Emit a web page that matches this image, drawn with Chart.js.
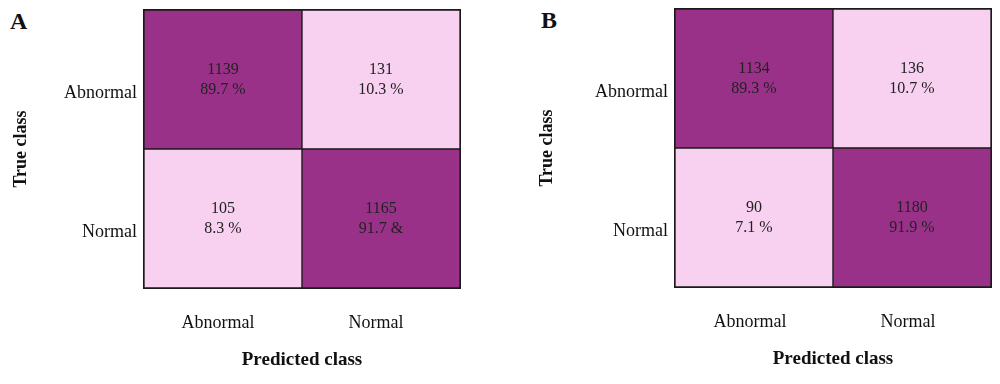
<!DOCTYPE html>
<html>
<head>
<meta charset="utf-8">
<script src="https://cdn.jsdelivr.net/npm/chart.js@4"></script>
<style>
  body { margin: 0; background: #fff; width: 1000px; height: 384px; position: relative; overflow: hidden; }
  .panel { position: absolute; top: 0; width: 470px; height: 384px; }
  .letter { position: absolute; font: bold 24px "Liberation Serif", serif; line-height: 1; color: #111; }
</style>
</head>
<body>
<div class="letter" style="left:10px; top:9px;">A</div>
<div class="letter" style="left:541px; top:8px;">B</div>
<div class="panel" style="left:0px;"><canvas id="matA"></canvas></div>
<div class="panel" style="left:530px;"><canvas id="matB"></canvas></div>

<script>
// class names
const predictedClass = ['Abnormal', 'Normal'];
const trueClass = ['Abnormal', 'Normal'];

// rows = true class, columns = predicted class
const countsA = [[1139, 131], [105, 1165]];
const percentA = [['89.7 %', '10.3 %'], ['8.3 %', '91.7 &']];

const countsB = [[1134, 136], [90, 1180]];
const percentB = [['89.3 %', '10.7 %'], ['7.1 %', '91.9 %']];

const darkColor = '#9a3188';
const lightColor = '#f8d0f0';
const serif = '"Liberation Serif", serif';

// writes the count and percentage in the middle of every cell
const cellText = {
  id: 'cellText',
  afterDatasetsDraw(chart, args, opts) {
    const ctx = chart.ctx;
    ctx.save();
    ctx.font = '16px ' + serif;
    ctx.fillStyle = '#222';
    ctx.textAlign = 'center';
    ctx.textBaseline = 'middle';
    chart.data.datasets.forEach((ds, d) => {
      const meta = chart.getDatasetMeta(d);
      meta.data.forEach((bar, j) => {
        const cy = (bar.y + bar.base) / 2;
        ctx.fillText(String(opts.counts[ds.row][j]), bar.x, cy - 10);
        ctx.fillText(opts.percents[ds.row][j], bar.x, cy + 10);
      });
    });
    ctx.restore();
  }
};

// thickens the outside frame so it matches the inner lines
const frame = {
  id: 'frame',
  afterDatasetsDraw(chart) {
    const a = chart.chartArea;
    const ctx = chart.ctx;
    ctx.save();
    ctx.strokeStyle = '#1a1a1a';
    ctx.lineWidth = 1;
    ctx.strokeRect(a.left - 0.5, a.top - 0.5, a.right - a.left + 1, a.bottom - a.top + 1);
    ctx.restore();
  }
};

function makeMatrix(id, counts, percents, geo) {
  // bottom row first so it stacks from the x axis upward
  const datasets = trueClass.map((name, r) => {
    const total = counts[r].reduce((s, v) => s + v, 0);
    return {
      label: name,
      row: r,
      data: predictedClass.map(() => 1),
      backgroundColor: counts[r].map(v => v / total > 0.5 ? darkColor : lightColor),
      borderColor: '#1a1a1a',
      borderWidth: 1,
      borderSkipped: false,
      barPercentage: 1,
      categoryPercentage: 1
    };
  }).reverse();

  new Chart(document.getElementById(id), {
    type: 'bar',
    data: { labels: predictedClass, datasets: datasets },
    plugins: [cellText, frame],
    options: {
      responsive: true,
      maintainAspectRatio: false,
      animation: false,
      layout: { padding: geo.padding },
      plugins: {
        legend: { display: false },
        tooltip: { enabled: false },
        cellText: { counts: counts, percents: percents }
      },
      scales: {
        x: {
          stacked: true,
          grid: { display: false, drawTicks: false },
          border: { display: false },
          ticks: { padding: 24, labelOffset: geo.xLabelOffset, color: '#111', font: { family: serif, size: 18 } },
          title: { display: true, text: 'Predicted class', color: '#111', padding: { bottom: 13 },
                   font: { family: serif, size: 19, weight: 'bold' } },
          afterFit: s => { s.height = 96; s.paddingLeft = 0; s.paddingRight = 0; }
        },
        y: {
          stacked: true,
          min: 0,
          max: trueClass.length,
          afterBuildTicks: s => {
            s.ticks = trueClass.map((_, i) => ({ value: trueClass.length - i - 0.5 }));
          },
          grid: { display: false, drawTicks: false },
          border: { display: false },
          ticks: {
            padding: 7,
            labelOffset: 14,
            color: '#111',
            font: { family: serif, size: 18 },
            callback: v => trueClass[trueClass.length - 1 - Math.floor(v)]
          },
          title: { display: true, text: 'True class', color: '#111', padding: { top: geo.yTitlePad },
                   font: { family: serif, size: 18, weight: 'bold' } },
          afterFit: s => { s.width = geo.yWidth; s.paddingTop = 0; s.paddingBottom = 0; }
        }
      }
    }
  });
}

makeMatrix('matA', countsA, percentA, {
  padding: { top: 10, right: 10, bottom: 0, left: 0 },
  yWidth: 144, yTitlePad: 11, xLabelOffset: -5
});
makeMatrix('matB', countsB, percentB, {
  padding: { top: 9, right: 9, bottom: 1, left: 0 },
  yWidth: 145, yTitlePad: 7, xLabelOffset: -4
});
</script>
</body>
</html>
